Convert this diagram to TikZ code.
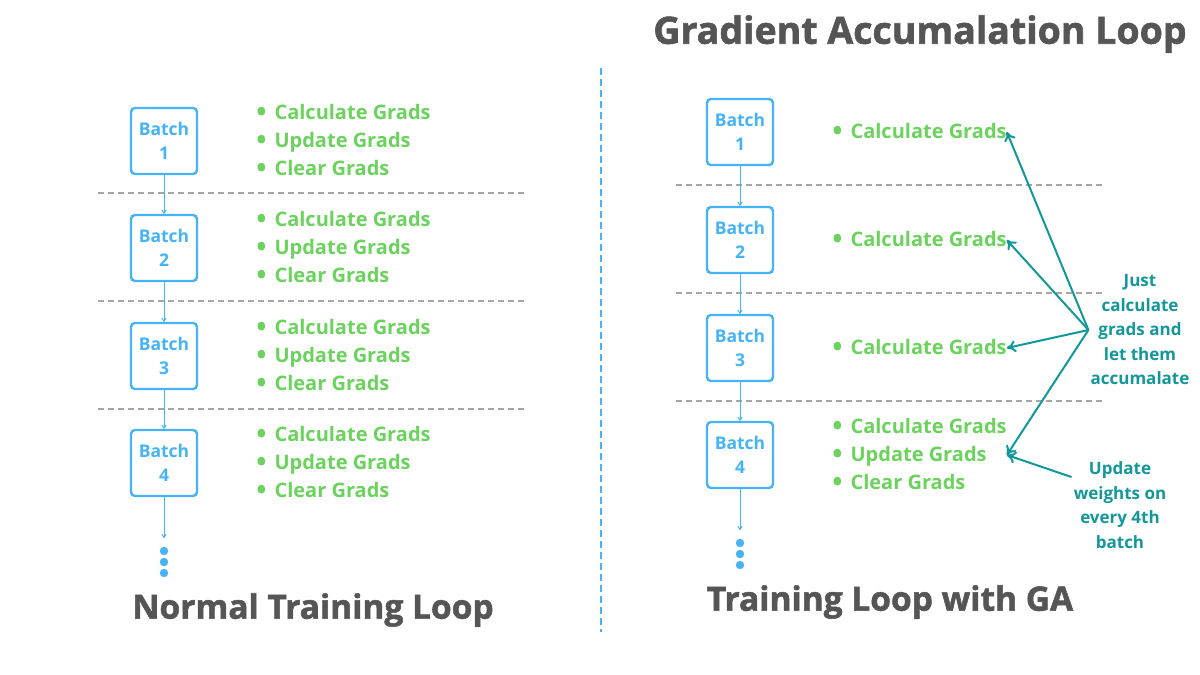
\documentclass[tikz,border=0pt]{standalone}
\usepackage{fontspec}
\setmainfont{Open Sans}
\newfontfamily\heavyfont[BoldFeatures={FakeBold=1.6}]{Open Sans}
\usetikzlibrary{positioning}
\usetikzlibrary{arrows.meta}

\definecolor{batchblue}{HTML}{45B3F5}
\definecolor{gradgreen}{HTML}{6BD35D}
\definecolor{noteteal}{HTML}{12979A}
\definecolor{titlegray}{HTML}{555555}
\definecolor{sepgray}{HTML}{A6A6A6}

\newcommand{\gradbullet}{\raisebox{-1.5pt}{\fontsize{27}{28}\selectfont\textbullet}\hspace{8pt}}

\begin{document}
\begin{tikzpicture}[x=1pt,y=-1pt,
  batch/.style={draw=batchblue,line width=2.4pt,rounded corners=4pt,minimum width=66pt,minimum height=66pt,inner sep=0pt,align=center,text=batchblue,font=\fontsize{17.5}{24}\selectfont\bfseries},
  grads/.style={inner sep=0pt,align=left,text=gradgreen,font=\fontsize{20}{28}\selectfont\bfseries},
  flow/.style={draw=batchblue,line width=1pt,-{To[length=4pt,width=5pt]}},
  sep/.style={draw=sepgray,line width=1.6pt,dash pattern=on 6pt off 4pt},
  note/.style={align=center,inner sep=2pt,text=noteteal,font=\fontsize{17}{24.5}\selectfont\bfseries},
  point/.style={draw=noteteal,line width=2pt,-{To[length=9pt,width=12pt]}},
  heading/.style={text=titlegray,font=\fontsize{33.5}{38}\selectfont\heavyfont\bfseries}]
\useasboundingbox (0,0) rectangle (1200,675);

% left: normal loop
\node[batch] (l1) at (164,141) {Batch\\1};
\node[batch] (l2) at (164,248) {Batch\\2};
\node[batch] (l3) at (164,356) {Batch\\3};
\node[batch] (l4) at (164,463) {Batch\\4};
\coordinate (lmore) at (164,538);

\node[grads, right=58pt of l1] (lg1) {\gradbullet Calculate Grads\\\gradbullet Update Grads\\\gradbullet Clear Grads};
\node[grads, right=58pt of l2] (lg2) {\gradbullet Calculate Grads\\\gradbullet Update Grads\\\gradbullet Clear Grads};
\node[grads, right=58pt of l3] (lg3) {\gradbullet Calculate Grads\\\gradbullet Update Grads\\\gradbullet Clear Grads};
\node[grads, right=58pt of l4] (lg4) {\gradbullet Calculate Grads\\\gradbullet Update Grads\\\gradbullet Clear Grads};

\draw[sep] (98,193) -- (527,193);
\draw[sep] (98,301) -- (527,301);
\draw[sep] (98,409) -- (527,409);

\draw[flow] (l1) -- (l2);
\draw[flow] (l2) -- (l3);
\draw[flow] (l3) -- (l4);
\draw[flow] (l4) -- (lmore);
\fill[batchblue] (164,551) circle (4.2);
\fill[batchblue] (164,562) circle (4.2);
\fill[batchblue] (164,573) circle (4.2);

\node[heading] (lhead) at (313,610) {Normal Training Loop};

% divider
\draw[batchblue,line width=1.6pt,dash pattern=on 7pt off 4pt] (601,68) -- (601,632);

% right: gradient accumulation loop
\node[heading,font=\fontsize{37.5}{42}\selectfont\heavyfont\bfseries] (title) at (920,34) {Gradient Accumalation Loop};

\node[batch] (r1) at (740,132) {Batch\\1};
\node[batch] (r2) at (740,240) {Batch\\2};
\node[batch] (r3) at (740,348) {Batch\\3};
\node[batch] (r4) at (740,455) {Batch\\4};
\coordinate (rmore) at (740,530);

\node[grads, right=58pt of r1] (rg1) {\gradbullet Calculate Grads};
\node[grads, right=58pt of r2] (rg2) {\gradbullet Calculate Grads};
\node[grads, right=58pt of r3] (rg3) {\gradbullet Calculate Grads};
\node[grads, right=58pt of r4] (rg4) {\gradbullet Calculate Grads\\\gradbullet Update Grads\\\gradbullet Clear Grads};

\draw[sep] (676,185) -- (1103,185);
\draw[sep] (676,293) -- (1103,293);
\draw[sep] (676,401) -- (1103,401);

\draw[flow] (r1) -- (r2);
\draw[flow] (r2) -- (r3);
\draw[flow] (r3) -- (r4);
\draw[flow] (r4) -- (rmore);
\fill[batchblue] (740,543) circle (4.2);
\fill[batchblue] (740,554) circle (4.2);
\fill[batchblue] (740,565) circle (4.2);

\node[note] (just) at (1140,330) {Just\\calculate\\grads and\\let them\\accumalate};
\node[note] (upd) at (1120,505) {Update\\weights on\\every 4th\\batch};

\draw[point] (just.west) -- (rg1.east);
\draw[point] (just.west) -- (rg2.east);
\draw[point] (just.west) -- (rg3.east);
\draw[point] (just.west) -- (rg4.east);
\draw[point] (upd.150) -- (rg4.east);

\node[heading] (rhead) at (890,602) {Training Loop with GA};

\end{tikzpicture}
\end{document}
